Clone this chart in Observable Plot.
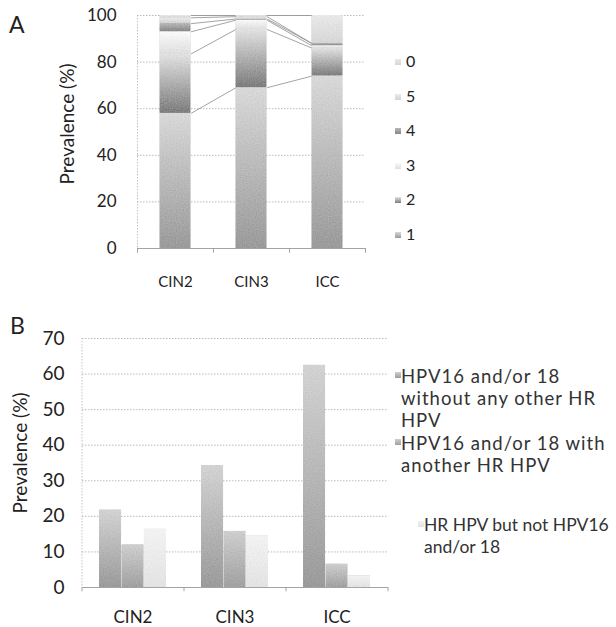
<!DOCTYPE html>
<html><head><meta charset="utf-8">
<script src="https://cdn.jsdelivr.net/npm/d3@7"></script>
<script src="https://cdn.jsdelivr.net/npm/@observablehq/plot@0.6"></script>
<style>
body{margin:0;background:#fff;font-family:Lato,"Open Sans",sans-serif;color:#222}
#wrap{position:relative;width:616px;height:627px;overflow:hidden;background:#fff}
#wrap svg{position:absolute;overflow:visible}
.pl{position:absolute;font-size:23px;line-height:1;color:#222}
.legA{position:absolute;font-size:16px;line-height:1;color:#222}
.legB{position:absolute;font-size:18.5px;line-height:22.2px;letter-spacing:1px;color:#333;white-space:nowrap}
.mk{position:absolute;width:6px;height:6px}
</style></head><body><div id="wrap"></div>
<script>
// ---------- data ----------
const categories = ["CIN2", "CIN3", "ICC"];
// Panel A: stacked number of HR types, bottom -> top
const seriesA = ["1", "2", "3", "4", "5", "0"];
const prevA_1 = [58, 69, 74];
const prevA_2 = [25.5, 25, 12];
const prevA_3 = [9.5, 4, 1];
const prevA_4 = [3.5, 0.5, 1];
const prevA_5 = [2.5, 1, 0];
const prevA_0 = [1, 0.5, 12];
const legendA = ["0", "5", "4", "3", "2", "1"];
const ticksA = [0, 20, 40, 60, 80, 100];
// Panel B: grouped bars
const seriesB = ["HPV16 and/or 18 without any other HR HPV", "HPV16 and/or 18 with another HR HPV", "HR HPV but not HPV16 and/or 18"];
const legendLinesB = [["HPV16 and/or 18", "without any other HR", "HPV"], ["HPV16 and/or 18 with", "another HR HPV"], ["HR HPV but not HPV16", "and/or 18"]];
const prevB_1618only = [21.8, 34.3, 62.5];
const prevB_1618other = [12.0, 15.8, 6.6];
const prevB_otherHR = [16.4, 14.5, 3.3];
const ticksB = [0, 10, 20, 30, 40, 50, 60, 70];
const yLabel = "Prevalence (%)";

const wrap = document.getElementById("wrap");
const FONT = "Lato, 'Open Sans', sans-serif";
const GRAIN = `<filter id="GRAINID" x="0" y="0" width="1" height="1">
  <feTurbulence type="fractalNoise" baseFrequency="0.85" numOctaves="1" seed="SEED" result="n"/>
  <feColorMatrix in="n" type="matrix" values="0.33 0.33 0.33 0 0  0.33 0.33 0.33 0 0  0.33 0.33 0.33 0 0  0 0 0 0 1" result="g"/>
  <feComposite in="SourceGraphic" in2="g" operator="arithmetic" k1="0" k2="1" k3="0.35" k4="-0.17" result="c"/>
  <feComposite in="c" in2="SourceGraphic" operator="in"/>
</filter>`;

// ---------- Panel A ----------
const valsA = {"1": prevA_1, "2": prevA_2, "3": prevA_3, "4": prevA_4, "5": prevA_5, "0": prevA_0};
const HW = 0.205; // half bar width in category units
const rowsA = categories.flatMap((c, i) => {
  let acc = 0;
  return seriesA.map(s => { const v = valsA[s][i]; const r = {cat: c, i, series: s, y1: acc, y2: acc + v}; acc += v; return r; });
});
const topOf = (s, i) => rowsA.find(r => r.series === s && r.i === i).y2;
const linksA = seriesA.flatMap(s => [0, 1].map(i => ({series: s, x1: i + HW, x2: i + 1 - HW, y1: topOf(s, i), y2: topOf(s, i + 1)})));

const gradA = {
  "1": ["#9a9a9a", "#d8d8d8"],
  "2": ["#7c7c7c", "#e2e2e2"],
  "3": ["#dedede", "#fafafa"],
  "4": ["#868686", "#b8b8b8"],
  "5": ["#d2d2d2", "#ececec"],
  "0": ["#d6d6d6", "#e8e8e8"]
};

const plotA = Plot.plot({
  width: 380, height: 300,
  marginLeft: 137, marginRight: 15, marginTop: 15, marginBottom: 52,
  style: {fontFamily: FONT, fontSize: "17px", color: "#222", background: "transparent"},
  x: {type: "linear", domain: [-0.5, 2.5]},
  y: {domain: [0, 100]},
  color: {type: "ordinal", domain: seriesA, range: seriesA.map(s => `url(#gA${s})`)},
  marks: [
    Plot.ruleY(ticksA.filter(t => t > 0), {stroke: "#a8a8a8", strokeWidth: 0.8, strokeDasharray: "1.5,1.5"}),
    Plot.ruleX([-0.5], {stroke: "#b5b5b5", strokeWidth: 0.8, strokeDasharray: "1.5,1.5"}),
    Plot.link(linksA, {x1: "x1", x2: "x2", y1: "y1", y2: "y2", stroke: "#8c8c8c", strokeWidth: 0.8}),
    Plot.rectY(rowsA, {x1: d => d.i - HW, x2: d => d.i + HW, y1: "y1", y2: "y2", fill: "series"}),
    Plot.ruleY([0], {stroke: "#9a9a9a", strokeWidth: 0.9}),
    Plot.ruleX([-0.5, 0.5, 1.5, 2.5], {y1: 0, y2: -2, stroke: "#9a9a9a", strokeWidth: 0.9}),
    Plot.axisY({ticks: ticksA, tickSize: 0, tickPadding: 21, fontSize: 17, label: null}),
    Plot.axisX({ticks: [0, 1, 2], tickFormat: i => categories[i], tickSize: 0, tickPadding: 28, fontSize: 15, label: null}),
    Plot.text([yLabel], {frameAnchor: "left", rotate: -90, dx: -70, dy: -8, textAnchor: "middle", text: d => d, fontSize: 19})
  ]
});
plotA.style.left = "0px"; plotA.style.top = "0px";
d3.select(plotA).insert("defs", ":first-child").html(seriesA.map(s =>
  `<linearGradient id="gA${s}" x1="0" y1="1" x2="0" y2="0"><stop offset="0" stop-color="${gradA[s][0]}"/><stop offset="1" stop-color="${gradA[s][1]}"/></linearGradient>`).join("") +
  GRAIN.replace("GRAINID", "grainA").replace("SEED", "3"));
d3.select(plotA).selectAll("g[aria-label=rect] rect").attr("filter", "url(#grainA)");
wrap.appendChild(plotA);

// Panel A label and legend
const la = document.createElement("div"); la.className = "pl"; la.textContent = "A";
la.style.left = "9px"; la.style.top = "13px"; wrap.appendChild(la);
const legAy = [62, 97, 131, 166, 200, 235];
legendA.forEach((s, k) => {
  const m = document.createElement("div"); m.className = "mk";
  m.style.left = "395px"; m.style.top = (legAy[k] - 3) + "px";
  m.style.background = `linear-gradient(to top, ${gradA[s][0]}, ${gradA[s][1]})`;
  wrap.appendChild(m);
  const t = document.createElement("div"); t.className = "legA"; t.textContent = s;
  t.style.left = "406px"; t.style.top = (legAy[k] - 9) + "px"; wrap.appendChild(t);
});

// ---------- Panel B ----------
const valsB = [prevB_1618only, prevB_1618other, prevB_otherHR];
const gradB = [["#9a9a9a", "#d2d2d2"], ["#a0a0a0", "#cecece"], ["#e2e2e2", "#f2f2f2"]];
const WB = 392, MLB = 82, MRB = 4, PADB = 0.34;
const stepB = (WB - MLB - MRB) / categories.length;
const bwB = stepB * (1 - PADB);
const barsB = seriesB.map((s, k) => Plot.barY(categories.map((c, i) => ({cat: c, series: s, v: valsB[k][i]})), {
  x: "cat", y: "v", fill: `url(#gB${k})`,
  insetLeft: k * bwB / 3, insetRight: (2 - k) * bwB / 3
}));
const plotB = Plot.plot({
  width: WB, height: 317,
  marginLeft: MLB, marginRight: MRB, marginTop: 28, marginBottom: 40,
  style: {fontFamily: FONT, fontSize: "19px", color: "#222", background: "transparent"},
  x: {domain: categories, paddingInner: PADB, paddingOuter: PADB / 2},
  y: {domain: [0, 70]},
  marks: [
    Plot.ruleY(ticksB.filter(t => t > 0), {stroke: "#a8a8a8", strokeWidth: 0.8, strokeDasharray: "1.5,1.5"}),
    Plot.ruleX(categories.slice(0, 1), {x: d => d, dx: -stepB / 2, stroke: "#b5b5b5", strokeWidth: 0.8, strokeDasharray: "1.5,1.5"}),
    ...barsB,
    Plot.ruleY([0], {stroke: "#9a9a9a", strokeWidth: 0.9}),
    Plot.ruleX(categories, {x: d => d, dx: -stepB / 2, y1: 0, y2: -1.2, stroke: "#9a9a9a", strokeWidth: 0.9}),
    Plot.ruleX(categories.slice(-1), {x: d => d, dx: stepB / 2, y1: 0, y2: -1.2, stroke: "#9a9a9a", strokeWidth: 0.9}),
    Plot.axisY({ticks: ticksB, tickSize: 0, tickPadding: 18, fontSize: 19, label: null}),
    Plot.axisX({tickSize: 0, tickPadding: 23, fontSize: 17, label: null}),
    Plot.text([yLabel], {frameAnchor: "left", rotate: -90, dx: -62, dy: -10, textAnchor: "middle", text: d => d, fontSize: 19})
  ]
});
plotB.style.left = "0px"; plotB.style.top = "310px";
d3.select(plotB).insert("defs", ":first-child").html(gradB.map((g, k) =>
  `<linearGradient id="gB${k}" x1="0" y1="1" x2="0" y2="0"><stop offset="0" stop-color="${g[0]}"/><stop offset="1" stop-color="${g[1]}"/></linearGradient>`).join("") +
  GRAIN.replace("GRAINID", "grainB").replace("SEED", "7"));
d3.select(plotB).selectAll("g[aria-label=bar] rect").attr("filter", "url(#grainB)");
wrap.appendChild(plotB);

const lb = document.createElement("div"); lb.className = "pl"; lb.textContent = "B";
lb.style.left = "10px"; lb.style.top = "314px"; wrap.appendChild(lb);
// [top, marker x, text x, letter spacing, font size]
const legBPos = [[365, 395, 401, 1, 18.5], [432, 395, 401, 1, 18.5], [514, 418, 424, 0, 17.5]];
legendLinesB.forEach((lines, k) => {
  const [top, mx, tx, ls, fs] = legBPos[k];
  const m = document.createElement("div"); m.className = "mk";
  m.style.left = mx + "px"; m.style.top = (top + 7) + "px";
  m.style.background = `linear-gradient(to top, ${gradB[k][0]}, ${gradB[k][1]})`;
  wrap.appendChild(m);
  const t = document.createElement("div"); t.className = "legB";
  t.innerHTML = lines.join("<br>");
  t.style.letterSpacing = ls + "px";
  t.style.fontSize = fs + "px";
  t.style.left = tx + "px"; t.style.top = top + "px"; wrap.appendChild(t);
});
</script></body></html>
